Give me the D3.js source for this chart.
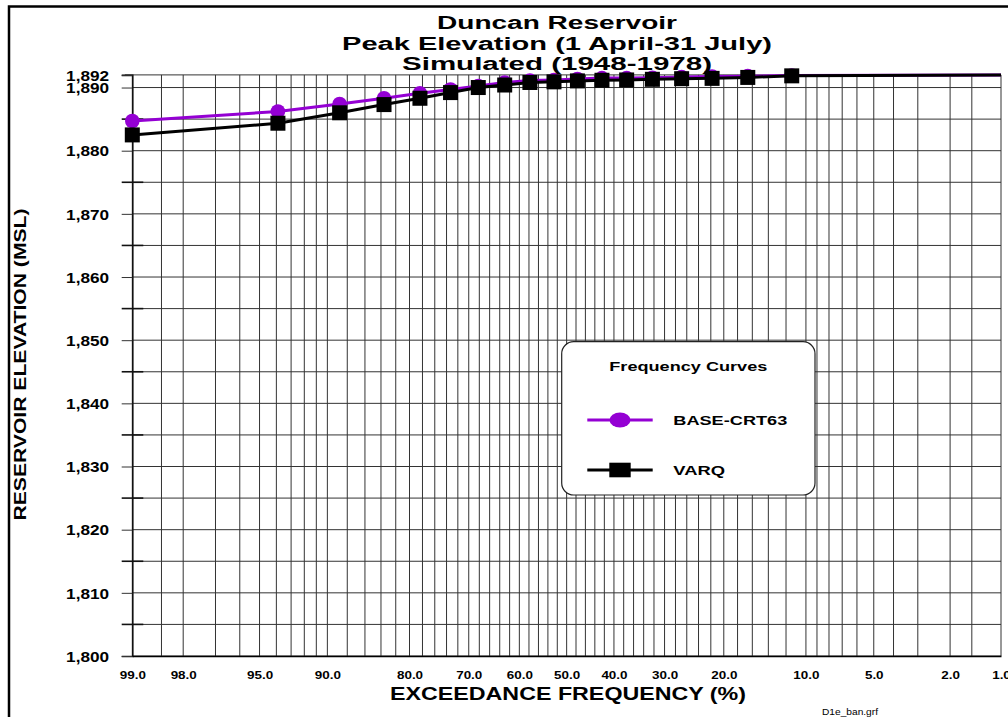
<!DOCTYPE html>
<html>
<head>
<meta charset="utf-8">
<script src="https://cdn.jsdelivr.net/npm/d3@7"></script>
<style>
  html, body { margin: 0; padding: 0; background: #fff; }
  svg { display: block; }
  text { font-family: Arial, "Liberation Sans", Helvetica, sans-serif; fill: #000; }
</style>
</head>
<body>
<svg id="chart" width="1008" height="717"></svg>
<script>
// Exceedance frequency (%) of each plotted peak elevation
const exceedance = [99.0, 93.9, 88.8, 83.6, 78.4, 73.3, 68.2, 63.0, 57.8, 52.7,
                    47.7, 42.5, 37.4, 32.3, 26.9, 21.8, 16.6, 11.4];
// Peak reservoir elevation (ft MSL), 1 April - 31 July
const baseCrt63 = [1884.7, 1886.2, 1887.4, 1888.3, 1889.1, 1889.7, 1890.25, 1890.8, 1891.1, 1891.2,
                   1891.35, 1891.5, 1891.5, 1891.55, 1891.65, 1891.75, 1891.8, 1891.9];
const varq      = [1882.5, 1884.35, 1886.0, 1887.3, 1888.3, 1889.2, 1890.0, 1890.4, 1890.8, 1890.9,
                   1891.05, 1891.15, 1891.2, 1891.3, 1891.4, 1891.45, 1891.6, 1891.85];
// Both curves run along full pool out to the 1% end of the axis
const fullPool = 1892;
const tailExceedance = 1.0;

const seriesNames = ["BASE-CRT63", "VARQ"];
const xTickLabels = [99, 98, 95, 90, 80, 70, 60, 50, 40, 30, 20, 10, 5, 2, 1];
const xGridPcts = [99, 98.5, 98, 97, 96, 95, 94, 93, 92, 91,
                   90, 88, 86, 84, 82, 80, 78, 76, 74, 72, 70, 68, 66, 64, 62, 60, 58, 56, 54, 52,
                   50, 48, 46, 44, 42, 40, 38, 36, 34, 32, 30, 28, 26, 24, 22, 20, 18, 16, 14, 12,
                   10, 9, 8, 7, 6, 5, 4, 3, 2, 1.5, 1];
const yTickLabels = [1800, 1810, 1820, 1830, 1840, 1850, 1860, 1870, 1880, 1890, 1892];
const yGridValues = [1800, 1805, 1810, 1815, 1820, 1825, 1830, 1835, 1840, 1845, 1850,
                     1855, 1860, 1865, 1870, 1875, 1880, 1885, 1890, 1892];
const yMinorTicks = [1805, 1815, 1825, 1835, 1845, 1855, 1865, 1875, 1885];

// Inverse standard normal CDF (Acklam's rational approximation)
function probit(p) {
  const a = [-3.969683028665376e+01, 2.209460984245205e+02, -2.759285104469687e+02,
             1.383577518672690e+02, -3.066479806614716e+01, 2.506628277459239e+00];
  const b = [-5.447609879822406e+01, 1.615858368580409e+02, -1.556989798598866e+02,
             6.680131188771972e+01, -1.328068155288572e+01];
  const c = [-7.784894002430293e-03, -3.223964580411365e-01, -2.400758277161838e+00,
             -2.549732539343734e+00, 4.374664141464968e+00, 2.938163982698783e+00];
  const d = [7.784695709041462e-03, 3.224671290700398e-01, 2.445134137142996e+00,
             3.754408661907416e+00];
  const pl = 0.02425, ph = 1 - pl;
  let q, r;
  if (p < pl) {
    q = Math.sqrt(-2 * Math.log(p));
    return (((((c[0]*q+c[1])*q+c[2])*q+c[3])*q+c[4])*q+c[5]) / ((((d[0]*q+d[1])*q+d[2])*q+d[3])*q+1);
  }
  if (p > ph) {
    q = Math.sqrt(-2 * Math.log(1 - p));
    return -(((((c[0]*q+c[1])*q+c[2])*q+c[3])*q+c[4])*q+c[5]) / ((((d[0]*q+d[1])*q+d[2])*q+d[3])*q+1);
  }
  q = p - 0.5; r = q * q;
  return (((((a[0]*r+a[1])*r+a[2])*r+a[3])*r+a[4])*r+a[5])*q / (((((b[0]*r+b[1])*r+b[2])*r+b[3])*r+b[4])*r+1);
}

const svg = d3.select("#chart");
const X0 = 132.3, X1 = 1001, Y0 = 656, Y1 = 74.9;

// Normal-probability axis: linear in the standard normal deviate
const xz = d3.scaleLinear().domain([probit(0.99), probit(0.01)]).range([X0, X1]);
const x = pct => xz(probit(pct / 100));
const y = d3.scaleLinear().domain([1800, 1892]).range([Y0, Y1]);

// Outer frame
svg.append("rect")
  .attr("x", 9).attr("y", 6.5).attr("width", 1100).attr("height", 800)
  .attr("fill", "none").attr("stroke", "#000").attr("stroke-width", 2.5);

// Grid
const grid = svg.append("g").attr("stroke", "#333").attr("stroke-width", 1);
grid.selectAll("line.v").data(xGridPcts).join("line")
  .attr("class", "v")
  .attr("x1", d => x(d)).attr("x2", d => x(d))
  .attr("y1", Y0).attr("y2", Y1);
grid.selectAll("line.h").data(yGridValues).join("line")
  .attr("class", "h")
  .attr("x1", d => d === 1892 ? X0 - 7.5 : X0).attr("x2", X1)
  .attr("y1", d => y(d)).attr("y2", d => y(d));

// Minor elevation ticks crossing the axis
svg.append("g").selectAll("line").data(yMinorTicks).join("line")
  .attr("x1", X0 - 10.6).attr("x2", X0 + 11)
  .attr("y1", d => y(d)).attr("y2", d => y(d))
  .attr("stroke", "#111").attr("stroke-width", 1.6);

// Y axis
const yAxis = svg.append("g")
  .attr("transform", `translate(${X0},0)`)
  .call(d3.axisLeft(y).tickValues(yTickLabels).tickFormat(d3.format(",")).tickSize(10.6).tickPadding(12.6));
yAxis.select(".domain").attr("stroke", "#111").attr("stroke-width", 1.6);
yAxis.selectAll(".tick line").attr("stroke", "#333");
yAxis.selectAll(".tick text")
  .attr("font-size", 14.5).attr("font-weight", "bold")
  .attr("textLength", 43).attr("lengthAdjust", "spacingAndGlyphs")
  .attr("dy", "0.36em");

// X axis labels (no tick marks)
const xAxis = svg.append("g")
  .attr("transform", `translate(0,${Y0})`)
  .call(d3.axisBottom(xz)
    .tickValues(xTickLabels.map(p => probit(p / 100)))
    .tickFormat((z, i) => xTickLabels[i].toFixed(1))
    .tickSize(0).tickPadding(0));
xAxis.select(".domain").attr("stroke", "#000").attr("stroke-width", 1.5);
xAxis.selectAll(".tick text")
  .attr("font-size", 11.2).attr("font-weight", "bold")
  .attr("y", 0).attr("dy", 0)
  .attr("transform", "translate(0,23) scale(1.2,1)");

// Curves
const line = d3.line().x(d => x(d[0])).y(d => y(d[1]));
function pointsOf(values) {
  return exceedance.map((p, i) => [p, values[i]]);
}
function withTail(values) {
  return pointsOf(values).concat([[tailExceedance, fullPool]]);
}

const purple = "#9400D3";
svg.append("path").datum(withTail(baseCrt63))
  .attr("d", line).attr("fill", "none").attr("stroke", purple).attr("stroke-width", 3);
svg.append("g").selectAll("circle").data(pointsOf(baseCrt63)).join("circle")
  .attr("cx", d => x(d[0])).attr("cy", d => y(d[1])).attr("r", 7.3)
  .attr("fill", purple);

svg.append("path").datum(withTail(varq))
  .attr("d", line).attr("fill", "none").attr("stroke", "#000").attr("stroke-width", 3);
svg.append("g").selectAll("rect").data(pointsOf(varq)).join("rect")
  .attr("x", d => x(d[0]) - 7.5).attr("y", d => y(d[1]) - 7.5)
  .attr("width", 15).attr("height", 15).attr("fill", "#000");

// Titles
const titles = [
  { t: "Duncan Reservoir", y: 29, len: 240 },
  { t: "Peak Elevation (1 April-31 July)", y: 50, len: 430 },
  { t: "Simulated (1948-1978)", y: 70, len: 310 }
];
svg.append("g").selectAll("text").data(titles).join("text")
  .attr("x", 557).attr("y", d => d.y)
  .attr("text-anchor", "middle").attr("font-size", 18).attr("font-weight", "bold")
  .attr("textLength", d => d.len).attr("lengthAdjust", "spacingAndGlyphs")
  .text(d => d.t);

svg.append("text")
  .attr("x", 568).attr("y", 700)
  .attr("text-anchor", "middle").attr("font-size", 17.7).attr("font-weight", "bold")
  .attr("textLength", 356).attr("lengthAdjust", "spacingAndGlyphs")
  .text("EXCEEDANCE FREQUENCY (%)");

svg.append("text")
  .attr("transform", "translate(26,364.5) rotate(-90)")
  .attr("text-anchor", "middle").attr("font-size", 16).attr("font-weight", "bold")
  .attr("textLength", 312).attr("lengthAdjust", "spacingAndGlyphs")
  .text("RESERVOIR ELEVATION (MSL)");

svg.append("text")
  .attr("x", 822).attr("y", 715)
  .attr("font-size", 9.5)
  .attr("textLength", 56).attr("lengthAdjust", "spacingAndGlyphs")
  .text("D1e_ban.grf");

// Legend
const lg = svg.append("g");
lg.append("rect")
  .attr("x", 561.7).attr("y", 341.7).attr("width", 253.3).attr("height", 153.3)
  .attr("rx", 12).attr("ry", 12)
  .attr("fill", "#fff").attr("stroke", "#222").attr("stroke-width", 1.2);
lg.append("text")
  .attr("x", 688.3).attr("y", 370.7).attr("text-anchor", "middle")
  .attr("font-size", 12.5).attr("font-weight", "bold")
  .attr("textLength", 158).attr("lengthAdjust", "spacingAndGlyphs")
  .text("Frequency Curves");

const legendRows = [
  { name: seriesNames[0], color: purple, y: 420, len: 114, marker: "circle" },
  { name: seriesNames[1], color: "#000", y: 470, len: 51.7, marker: "square" }
];
legendRows.forEach(r => {
  lg.append("line")
    .attr("x1", 587.3).attr("x2", 652.7).attr("y1", r.y).attr("y2", r.y)
    .attr("stroke", r.color).attr("stroke-width", 3);
  if (r.marker === "circle") {
    lg.append("ellipse").attr("cx", 620).attr("cy", r.y).attr("rx", 10.5).attr("ry", 7.5).attr("fill", r.color);
  } else {
    lg.append("rect").attr("x", 609.3).attr("y", r.y - 7.3).attr("width", 21.4).attr("height", 14.6).attr("fill", r.color);
  }
  lg.append("text")
    .attr("x", 673.3).attr("y", r.y + 4.6)
    .attr("font-size", 12.5).attr("font-weight", "bold")
    .attr("textLength", r.len).attr("lengthAdjust", "spacingAndGlyphs")
    .text(r.name);
});
</script>
</body>
</html>
